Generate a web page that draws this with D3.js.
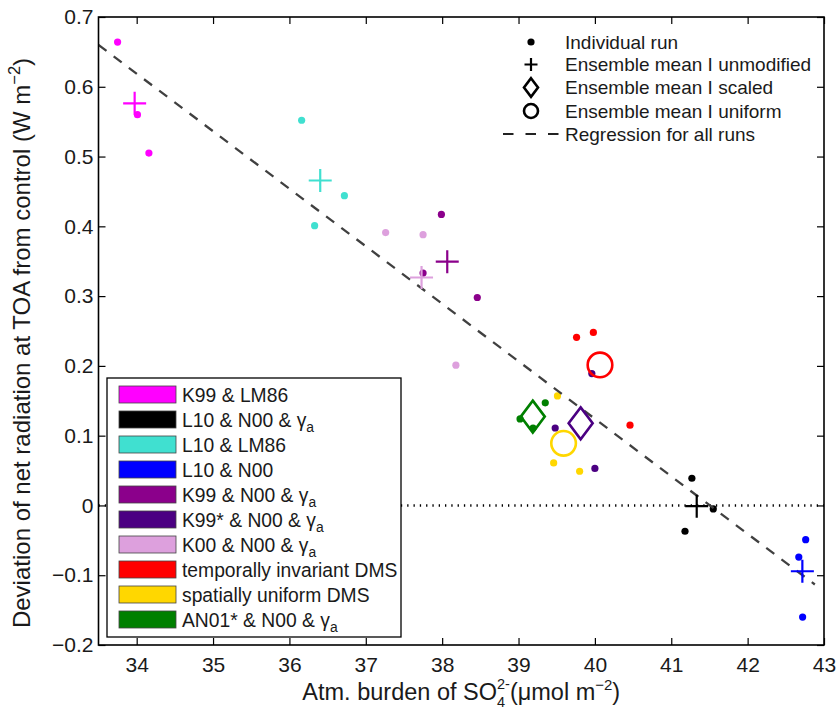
<!DOCTYPE html>
<html>
<head>
<meta charset="utf-8">
<script src="https://cdn.jsdelivr.net/npm/d3@7"></script>
<style>
  body { margin: 0; background: #fff; }
  svg { display: block; }
  text { font-family: "Liberation Sans", Arial, Helvetica, sans-serif; fill: #1a1a1a; }
</style>
</head>
<body>
<svg id="chart" width="838" height="710"></svg>
<script>
// ---- data ----
const xTicks = [34, 35, 36, 37, 38, 39, 40, 41, 42, 43];
const yTicks = [-0.2, -0.1, 0, 0.1, 0.2, 0.3, 0.4, 0.5, 0.6, 0.7];

const groupNames = [
  "K99 & LM86",
  "L10 & N00 & γ_a",
  "L10 & LM86",
  "L10 & N00",
  "K99 & N00 & γ_a",
  "K99* & N00 & γ_a",
  "K00 & N00 & γ_a",
  "temporally invariant DMS",
  "spatially uniform DMS",
  "AN01* & N00 & γ_a"
];
const groupColors = ["#ff00ff", "#000000", "#40e0d0", "#0000ff", "#8b008b",
                     "#4b0082", "#dda0dd", "#ff0000", "#ffd700", "#008000"];
// marker used for each ensemble mean
const meanMarkers = ["cross", "cross", "cross", "cross", "cross",
                     "diamond", "cross", "circle", "circle", "diamond"];

// individual runs: sulfate burden (µmol m-2) and TOA net radiation change (W m-2)
const runX = [
  [33.75, 34.01, 34.16],
  [41.27, 41.55, 41.18],
  [36.16, 36.72, 36.33],
  [42.76, 42.67, 42.72],
  [37.99, 37.75, 38.46],
  [39.96, 39.48, 40.00],
  [37.26, 37.75, 38.18],
  [39.76, 39.98, 40.46],
  [39.51, 39.46, 39.80],
  [39.35, 39.02, 39.19]
];
const runY = [
  [0.664, 0.560, 0.505],
  [0.039, -0.005, -0.037],
  [0.552, 0.444, 0.401],
  [-0.049, -0.074, -0.160],
  [0.417, 0.333, 0.298],
  [0.189, 0.111, 0.053],
  [0.391, 0.388, 0.201],
  [0.241, 0.248, 0.115],
  [0.157, 0.061, 0.049],
  [0.147, 0.124, 0.111]
];

// burden range spanned by the regression line
const fitRange = [33.5, 42.88];

const keyLabels = ["Individual run", "Ensemble mean I unmodified", "Ensemble mean I scaled",
                   "Ensemble mean I uniform", "Regression for all runs"];
const keyMarkers = ["dot", "cross", "diamond", "circle", "dash"];

// ---- layout ----
const W = 838, H = 710;
const plot = { left: 98.5, right: 824, top: 17, bottom: 645 };
const FONT = '"Liberation Sans", Arial, Helvetica, sans-serif';

const x = d3.scaleLinear().domain([33.5, 43]).range([plot.left, plot.right]);
const y = d3.scaleLinear().domain([-0.2, 0.7]).range([plot.bottom, plot.top]);

const svg = d3.select("#chart");
svg.append("rect").attr("width", W).attr("height", H).attr("fill", "#fff");

svg.append("defs").append("clipPath").attr("id", "plotClip")
  .append("rect")
  .attr("x", plot.left).attr("y", plot.top)
  .attr("width", plot.right - plot.left).attr("height", plot.bottom - plot.top);

const gPlot = svg.append("g").attr("clip-path", "url(#plotClip)");

// zero reference line
gPlot.append("line")
  .attr("x1", x.range()[0]).attr("x2", x.range()[1])
  .attr("y1", y(0)).attr("y2", y(0))
  .attr("stroke", "#000").attr("stroke-width", 2.5)
  .attr("stroke-dasharray", "1.3,5");

// flatten runs
const runs = groupNames.flatMap((name, i) =>
  runX[i].map((vx, j) => ({ g: i, x: vx, y: runY[i][j] })));

// least-squares regression over all runs
const mx = d3.mean(runs, d => d.x), my = d3.mean(runs, d => d.y);
const slope = d3.sum(runs, d => (d.x - mx) * (d.y - my)) / d3.sum(runs, d => (d.x - mx) ** 2);
const intercept = my - slope * mx;
const fit = fitRange.map(v => [v, intercept + slope * v]);

// individual runs
gPlot.selectAll("circle.run").data(runs).join("circle")
  .attr("class", "run")
  .attr("cx", d => x(d.x)).attr("cy", d => y(d.y))
  .attr("r", 3.6)
  .attr("fill", d => groupColors[d.g]);

gPlot.append("path")
  .attr("d", d3.line().x(d => x(d[0])).y(d => y(d[1]))(fit))
  .attr("fill", "none").attr("stroke", "#404040")
  .attr("stroke-width", 2.3).attr("stroke-dasharray", "10,9");

// marker shapes
function markerPath(kind, s) {
  if (kind === "cross") return `M${-s},0H${s}M0,${-s}V${s}`;
  if (kind === "diamond") return `M0,${-s * 1.33}L${s},0L0,${s * 1.33}L${-s},0Z`;
  return null;
}
function drawMarker(g, kind, cx, cy, color, size) {
  if (kind === "circle") {
    g.append("circle").attr("cx", cx).attr("cy", cy).attr("r", size)
      .attr("fill", "none").attr("stroke", color).attr("stroke-width", 2.6);
  } else if (kind === "dot") {
    g.append("circle").attr("cx", cx).attr("cy", cy).attr("r", 3.6).attr("fill", color);
  } else {
    g.append("path").attr("transform", `translate(${cx},${cy})`)
      .attr("d", markerPath(kind, size))
      .attr("fill", "none").attr("stroke", color)
      .attr("stroke-width", kind === "cross" ? 2.2 : 2.6)
      .attr("stroke-linejoin", "miter");
  }
}

// ensemble means
const means = groupNames.map((n, i) => ({
  g: i, x: d3.mean(runX[i]), y: d3.mean(runY[i]), kind: meanMarkers[i]
}));
const sizeOf = { cross: 11.5, diamond: 12, circle: 12.3 };
means.forEach(m => drawMarker(gPlot, m.kind, x(m.x), y(m.y), groupColors[m.g], sizeOf[m.kind]));

// ---- axes ----
function styleAxis(g) {
  g.attr("font-size", 21).attr("font-family", FONT);
  g.select(".domain").remove();
  g.selectAll(".tick line").attr("stroke", "#000").attr("stroke-width", 1.2);
  g.selectAll(".tick text").attr("fill", "#1a1a1a");
}
svg.append("g").attr("transform", `translate(0,${plot.bottom})`)
  .call(d3.axisBottom(x).tickValues(xTicks).tickSizeInner(-7).tickSizeOuter(0)
    .tickPadding(12).tickFormat(d3.format("d")))
  .call(styleAxis);
svg.append("g").attr("transform", `translate(0,${plot.top})`)
  .call(d3.axisTop(x).tickValues(xTicks).tickSizeInner(-7).tickSizeOuter(0).tickFormat(() => ""))
  .call(styleAxis);
svg.append("g").attr("transform", `translate(${plot.left},0)`)
  .call(d3.axisLeft(y).tickValues(yTicks).tickSizeInner(-7).tickSizeOuter(0)
    .tickPadding(5).tickFormat(d => d === 0 ? "0" : d3.format(".1f")(d)))
  .call(styleAxis);
svg.append("g").attr("transform", `translate(${plot.right},0)`)
  .call(d3.axisRight(y).tickValues(yTicks).tickSizeInner(-7).tickSizeOuter(0).tickFormat(() => ""))
  .call(styleAxis);

// frame
svg.append("rect")
  .attr("x", plot.left).attr("y", plot.top)
  .attr("width", plot.right - plot.left).attr("height", plot.bottom - plot.top)
  .attr("fill", "none").attr("stroke", "#000").attr("stroke-width", 1.6);

// ---- axis titles ----
// x title: "SO" carries a stacked subscript 4 and superscript 2-
const xl = svg.append("text").attr("font-size", 23.5).attr("x", 0).attr("y", 700);
xl.append("tspan").text("Atm. burden of SO");
const sub4 = xl.append("tspan").attr("font-size", 14.5).attr("dy", 7).text("4");
const sup2 = xl.append("tspan").attr("font-size", 14.5).attr("dy", -18).text("2-");
xl.append("tspan").attr("dy", 11).text("(μmol m");
xl.append("tspan").attr("font-size", 15).attr("dy", -10).text("−2");
xl.append("tspan").attr("dy", 10).text(")");
sup2.attr("dx", -sub4.node().getComputedTextLength());
{
  const bb = xl.node().getBBox();
  const cx = (plot.left + plot.right) / 2;
  xl.attr("x", cx - (bb.x + bb.width / 2));
}

const yl = svg.append("text").attr("font-size", 24)
  .attr("text-anchor", "middle")
  .attr("transform", `translate(30,343) rotate(-90)`);
yl.append("tspan").text("Deviation of net radiation at TOA from control (W m");
yl.append("tspan").attr("font-size", 16.5).attr("dy", -10).text("−2");
yl.append("tspan").attr("dy", 10).text(")");

// ---- label helper (supports "_x" subscript) ----
function setLabel(t, str, fs) {
  const [base, sub] = str.split("_");
  t.append("tspan").text(base);
  if (sub) t.append("tspan").attr("font-size", fs * 0.72).attr("dy", fs * 0.3).text(sub);
}

// ---- colour key (lower left) ----
const key = svg.append("g");
const keyBox = { x: 107, y: 378, w: 294, h: 259 };
key.append("rect").attr("x", keyBox.x).attr("y", keyBox.y)
  .attr("width", keyBox.w).attr("height", keyBox.h)
  .attr("fill", "#fff").attr("stroke", "#000").attr("stroke-width", 1.3);
groupNames.forEach((name, i) => {
  const top = 386 + i * 25;
  key.append("rect").attr("x", 119).attr("y", top).attr("width", 57).attr("height", 17)
    .attr("fill", groupColors[i]).attr("stroke", "#444").attr("stroke-width", 0.8);
  const t = key.append("text").attr("x", 182).attr("y", top + 15.5).attr("font-size", 19.3);
  setLabel(t, name, 19.3);
});

// ---- marker key (upper right) ----
const mkey = svg.append("g");
const rowsY = [42, 64.5, 87.5, 111, 134];
keyLabels.forEach((lab, i) => {
  const cy = rowsY[i];
  const kind = keyMarkers[i];
  if (kind === "dash") {
    mkey.append("line").attr("x1", 503).attr("x2", 562).attr("y1", cy).attr("y2", cy)
      .attr("stroke", "#222").attr("stroke-width", 2).attr("stroke-dasharray", "10.5,12");
  } else {
    const s = kind === "cross" ? 6.5 : 7;
    drawMarker(mkey, kind, 531, cy, "#000", s);
  }
  mkey.append("text").attr("x", 565).attr("y", cy).attr("dy", "0.35em")
    .attr("font-size", 19).text(lab);
});
</script>
</body>
</html>
